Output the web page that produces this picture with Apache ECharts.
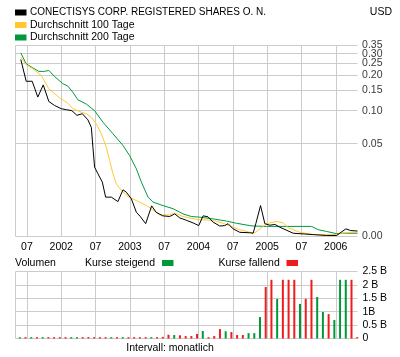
<!DOCTYPE html>
<html><head><meta charset="utf-8">
<script src="https://cdn.jsdelivr.net/npm/echarts@6/dist/echarts.min.js"></script>
<style>html,body{margin:0;padding:0;background:#fff}#c{width:400px;height:357px}</style>
</head><body><div id="c"></div>
<script>
// month index 0 = start of May 2001
const xTickMonths = [2, 8, 14, 20, 26, 32, 38, 44, 50, 56];
const xTickLabels = ['07', '2002', '07', '2003', '07', '2004', '07', '2005', '07', '2006'];
const priceTicks = [0, 0.05, 0.10, 0.15, 0.20, 0.25, 0.30, 0.35];
const priceTickLabels = ['0.00', '0.05', '0.10', '0.15', '0.20', '0.25', '0.30', '0.35'];
const volTicks = [0, 0.5, 1, 1.5, 2, 2.5];
const volTickLabels = ['0', '0.5 B', '1B', '1.5 B', '2 B', '2.5 B'];

const priceMonths = [0.93,1.87,2.92,3.9,4.85,5.83,6.83,8.0,8.88,9.86,10.73,11.68,12.66,13.26,13.54,13.83,14.41,15.18,15.76,16.76,17.91,18.79,19.38,20.26,21.13,21.77,22.76,23.81,24.6,25.75,26.97,27.84,28.72,29.89,31.05,32.04,32.8,33.67,34.55,35.72,36.59,37.17,38.05,39.22,40.97,41.55,42.02,42.85,43.6,44.48,45.35,46.23,48.56,52.06,54.4,56.15,56.91,57.78,58.61,59.8];
const priceValues = [0.269,0.178,0.178,0.131,0.166,0.120,0.111,0.104,0.102,0.100,0.091,0.094,0.083,0.071,0.046,0.0287,0.0242,0.0192,0.0119,0.0119,0.0101,0.0152,0.0141,0.0112,0.0063,0.0051,0.0030,0.0085,0.0063,0.0052,0.0050,0.0058,0.0046,0.0039,0.0032,0.0025,0.0052,0.0049,0.0034,0.0024,0.0025,0.0030,0.0017,0.0009,0.0008,0.0007,0.0030,0.0086,0.0030,0.0026,0.0028,0.0021,0.0007,0.0004,0.0002,0.0002,0.0009,0.0017,0.0013,0.0012];

const ma100Months = [0.93,1.87,3.03,4.5,5.83,7.7,9.16,10.03,11.5,12.38,13.26,14.13,15.01,15.88,16.46,17.04,17.63,18.51,19.66,21.13,22.89,23.9,25.21,26.97,27.84,29.29,31.92,34.55,36.3,38.05,39.22,40.97,41.85,42.72,43.9,45.65,46.8,47.68,49.73,52.06,56.15,57.03,58.48,59.8];
const ma100Values = [0.281,0.244,0.226,0.199,0.154,0.129,0.116,0.104,0.097,0.0939,0.0876,0.0765,0.0619,0.0462,0.0338,0.0242,0.0183,0.0149,0.0122,0.0105,0.0086,0.0073,0.0055,0.0055,0.0061,0.0050,0.0041,0.0039,0.0031,0.0021,0.0015,0.0009,0.0008,0.0017,0.0030,0.0036,0.0032,0.0020,0.0009,0.0004,0.0004,0.0007,0.0009,0.0009];

const ma200Months = [0.93,1.87,3.03,4.08,5.08,5.83,6.83,8.28,9.16,10.03,10.91,12.38,13.83,15.29,17.04,18.79,19.96,21.13,22.01,23.17,24.04,25.79,27.54,29.29,30.76,32.22,34.55,36.89,38.64,40.97,41.55,43.9,51.78,52.93,54.4,56.15,57.03,59.8];
const ma200Values = [0.305,0.248,0.230,0.215,0.215,0.219,0.195,0.170,0.162,0.144,0.124,0.114,0.100,0.079,0.062,0.048,0.038,0.0275,0.0192,0.0119,0.0099,0.0086,0.0075,0.0058,0.0050,0.0048,0.0043,0.0037,0.0031,0.0025,0.0024,0.0023,0.0023,0.0015,0.0011,0.0006,0.0007,0.0007];

// monthly volume in billions, May 2001 .. Apr 2006
const volumeValues = [0.05,0.05,0.05,0.05,0.05,0.05,0.05,0.05,0.05,0.05,0.05,0.05,0.05,0.05,0.05,0.05,0.05,0.05,0.05,0.05,0.05,0.05,0.05,0.05,0.05,0.06,0.14,0.13,0.12,0.09,0.09,0.17,0.28,0.05,0.09,0.35,0.27,0.24,0.13,0.13,0.2,0.2,0.8,1.92,2.19,1.48,2.19,2.19,2.19,1.29,1.48,2.19,1.55,0.99,0.91,0.69,2.19,2.19,2.19,0.05];
const volumeRising = [1,0,1,0,1,0,0,0,0,1,1,0,0,0,0,0,1,0,1,0,0,0,0,1,0,0,0,1,0,0,0,0,1,0,0,0,1,0,0,0,1,1,1,0,0,1,0,0,0,1,0,0,1,1,0,1,1,1,0,0];

const C = 0.0115;
const T = v => Math.log(v + C);
const X_MAX = 59.8;
const BAR_POS = 0.75;
const FONT = "'Liberation Sans', Arial, sans-serif";
const GRID_COLOR = '#cccccc';
const COL_PRICE = '#000000', COL_100 = '#ffc830', COL_200 = '#00993a', COL_UP = '#00993a', COL_DOWN = '#ee1c1c';

const zip = (ms, vs) => ms.map((m, i) => [m, T(vs[i])]);
const upData = volumeValues.map((v, i) => volumeRising[i] ? [i + BAR_POS, v] : null).filter(Boolean);
const downData = volumeValues.map((v, i) => volumeRising[i] ? null : [i + BAR_POS, v]).filter(Boolean);

const vMonths = [0].concat(xTickMonths);           // left border + month grid lines
const gridLine = { show: true, lineStyle: { color: GRID_COLOR, width: 1, type: 'solid' } };

const lbl = { fontSize: 10.5, color: '#000', fontFamily: FONT };
const txt = (text, x, y, size, align) => ({
  type: 'text', x, y, silent: true,
  style: { text, font: size + 'px ' + FONT, fill: '#000', textAlign: align || 'left', textVerticalAlign: 'middle' }
});
const box = (x, y, color) => ({ type: 'rect', silent: true, shape: { x, y, width: 11.5, height: 6 }, style: { fill: color } });

const chart = echarts.init(document.getElementById('c'), null, { renderer: 'canvas' });
chart.setOption({
  animation: false,
  textStyle: { fontFamily: FONT },
  grid: [
    { left: 15.5, right: 42.5, top: 45.5, height: 191 },
    { left: 15.5, right: 42.5, top: 271.5, height: 67 }
  ],
  graphic: [
    box(15, 9.5, COL_PRICE), txt('CONECTISYS CORP. REGISTERED SHARES O. N.', 30, 12.5, 10),
    box(15, 22, COL_100), txt('Durchschnitt 100 Tage', 30, 25, 10.5),
    box(15, 34.5, COL_200), txt('Durchschnitt 200 Tage', 30, 37.5, 10.5),
    txt('USD', 392, 12.5, 10.5, 'right'),
    txt('Volumen', 15, 263, 10.5),
    txt('Kurse steigend', 85, 263, 10.5), box(162, 260, COL_UP),
    txt('Kurse fallend', 218.5, 263, 10.5), box(286.5, 260, COL_DOWN),
    txt('Intervall: monatlich', 170, 348, 10.5, 'center')
  ],
  xAxis: [
    {
      type: 'value', gridIndex: 0, min: 0, max: X_MAX,
      axisLine: { show: false },
      axisTick: { show: false, customValues: vMonths },
      splitLine: gridLine,
      axisLabel: Object.assign({
        customValues: xTickMonths, margin: 5,
        formatter: v => { const i = xTickMonths.findIndex(m => Math.abs(m - v) < 1e-6); return i >= 0 ? xTickLabels[i] : ''; }
      }, lbl)
    },
    {
      type: 'value', gridIndex: 1, min: 0, max: X_MAX,
      axisLine: { show: false },
      axisTick: { show: false, customValues: vMonths },
      splitLine: gridLine,
      axisLabel: { show: false }
    }
  ],
  yAxis: [
    {
      type: 'value', gridIndex: 0, position: 'right', min: T(0), max: T(0.35),
      axisLine: { show: false },
      axisTick: { show: false, customValues: priceTicks.map(T) },
      splitLine: gridLine,
      axisLabel: { show: false }
    },
    {
      type: 'value', gridIndex: 1, position: 'right', min: 0, max: 2.5, interval: 0.5,
      axisLine: { show: false }, axisTick: { show: false },
      splitLine: gridLine,
      axisLabel: Object.assign({
        margin: 5,
        formatter: v => { const i = volTicks.findIndex(t => Math.abs(t - v) < 1e-6); return i >= 0 ? volTickLabels[i] : ''; }
      }, lbl)
    }
  ],
  series: [
    {
      type: 'scatter', xAxisIndex: 0, yAxisIndex: 0, z: 6, silent: true, clip: false,
      data: priceTicks.map(t => [X_MAX, T(t)]), symbolSize: 0.1,
      itemStyle: { color: 'rgba(0,0,0,0)' },
      label: Object.assign({ show: true, position: 'right', distance: 4.5, formatter: p => priceTickLabels[p.dataIndex] }, lbl)
    },
    {
      name: 'Durchschnitt 200 Tage', type: 'line', xAxisIndex: 0, yAxisIndex: 0, z: 3,
      data: zip(ma200Months, ma200Values), showSymbol: false, symbol: 'none',
      lineStyle: { color: COL_200, width: 1 }, itemStyle: { color: COL_200 }
    },
    {
      name: 'Durchschnitt 100 Tage', type: 'line', xAxisIndex: 0, yAxisIndex: 0, z: 4,
      data: zip(ma100Months, ma100Values), showSymbol: false, symbol: 'none',
      lineStyle: { color: COL_100, width: 1 }, itemStyle: { color: COL_100 }
    },
    {
      name: 'CONECTISYS CORP. REGISTERED SHARES O. N.', type: 'line', xAxisIndex: 0, yAxisIndex: 0, z: 5,
      data: zip(priceMonths, priceValues), showSymbol: false, symbol: 'none',
      lineStyle: { color: COL_PRICE, width: 1 }, itemStyle: { color: COL_PRICE }
    },
    {
      name: 'Kurse steigend', type: 'bar', xAxisIndex: 1, yAxisIndex: 1, z: 3,
      data: upData, barWidth: 2, barGap: '-100%', itemStyle: { color: COL_UP }
    },
    {
      name: 'Kurse fallend', type: 'bar', xAxisIndex: 1, yAxisIndex: 1, z: 3,
      data: downData, barWidth: 2, barGap: '-100%', itemStyle: { color: COL_DOWN }
    }
  ]
});
</script>
</body></html>
